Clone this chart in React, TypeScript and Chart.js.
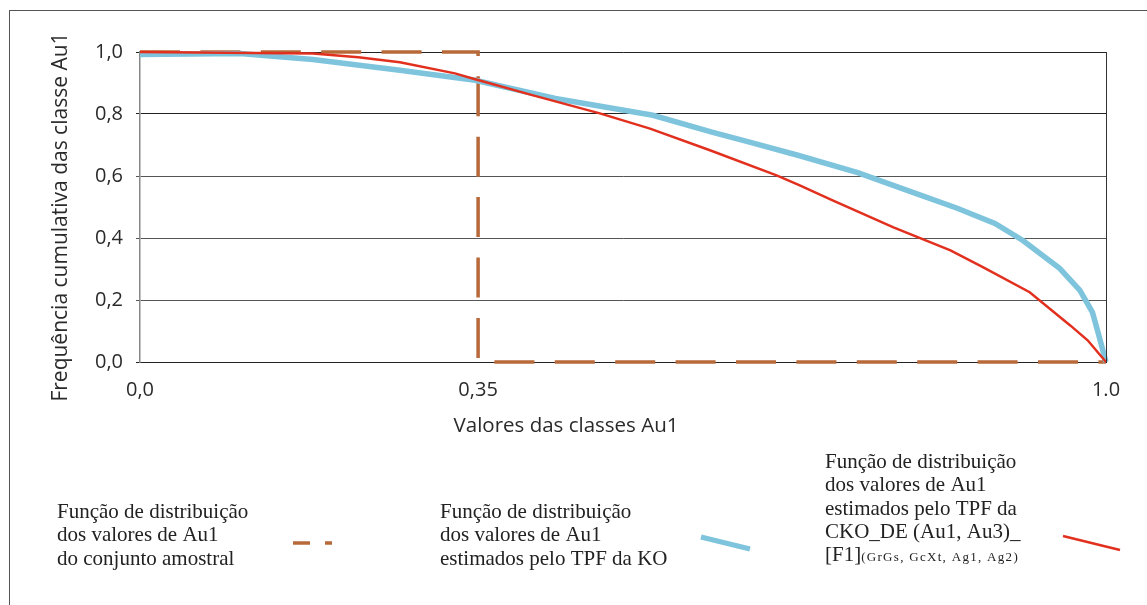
import React, { useEffect, useRef } from 'react';
import { Chart, registerables } from 'chart.js';

Chart.register(...registerables);

// ---- Data ----
const sampleX = [0, 0.35, 0.35, 1.0];
const sampleY = [1, 1, 0, 0];

const koX = [0, 0.1035, 0.179, 0.269, 0.347, 0.43, 0.531, 0.593, 0.631, 0.681, 0.743, 0.8, 0.846, 0.885, 0.914, 0.952, 0.973, 0.986, 0.992, 1.0];
const koY = [0.992, 0.995, 0.976, 0.941, 0.909, 0.85, 0.796, 0.741, 0.709, 0.667, 0.611, 0.547, 0.496, 0.447, 0.392, 0.302, 0.231, 0.16, 0.093, 0.0];

const ckoX = [0, 0.179, 0.226, 0.269, 0.326, 0.347, 0.407, 0.476, 0.528, 0.59, 0.659, 0.683, 0.717, 0.78, 0.839, 0.873, 0.921, 0.963, 0.981, 1.0];
const ckoY = [1.0, 0.995, 0.983, 0.967, 0.931, 0.912, 0.86, 0.802, 0.753, 0.683, 0.602, 0.57, 0.521, 0.434, 0.36, 0.305, 0.225, 0.118, 0.07, 0.0];

const xTickValues = [0, 0.35, 1.0];
const xTickLabels = ['0,0', '0,35', '1.0'];
const yTickLabels = ['0,0', '0,2', '0,4', '0,6', '0,8', '1,0'];

const xTitle = 'Valores das classes Au1';
const yTitle = 'Frequência cumulativa das classe Au1';

const legend1 = ['Função de distribuição', 'dos valores de Au1', 'do conjunto amostral'];
const legend2 = ['Função de distribuição', 'dos valores de Au1', 'estimados pelo TPF da KO'];
const legend3 = ['Função de distribuição', 'dos valores de Au1', 'estimados pelo TPF da', 'CKO_DE (Au1, Au3)_', '[F1]'];
const legend3Sub = '(GrGs, GcXt, Ag1, Ag2)';

const BROWN = '#B8693A';
const BLUE = '#7EC4DD';
const RED = '#E2301F';

const SANS = '"Open Sans", sans-serif';
const SERIF = '"Liberation Serif", serif';

const toPts = (xs: number[], ys: number[]) => xs.map((x, i) => ({ x, y: ys[i] }));

const decorPlugin = {
  id: 'decor',
  beforeDraw(chart: any) {
    const ctx = chart.ctx;
    ctx.save();
    ctx.fillStyle = '#ffffff';
    ctx.fillRect(0, 0, chart.width, chart.height);
    ctx.strokeStyle = '#555';
    ctx.lineWidth = 1;
    ctx.strokeRect(9.5, 10.5, 2000, 2000);
    ctx.restore();
  },
  afterDraw(chart: any) {
    const ctx = chart.ctx;
    const area = chart.chartArea;
    ctx.save();
    // right border of plot
    ctx.strokeStyle = '#333';
    ctx.lineWidth = 1;
    ctx.beginPath();
    ctx.moveTo(Math.round(area.right) + 0.5, area.top);
    ctx.lineTo(Math.round(area.right) + 0.5, area.bottom);
    ctx.stroke();

    // axis titles
    ctx.fillStyle = '#2a2a2a';
    ctx.font = `20.5px ${SANS}`;
    ctx.textAlign = 'center';
    ctx.textBaseline = 'alphabetic';
    ctx.fillText(xTitle, 566, 432);

    ctx.save();
    ctx.translate(67, 217);
    ctx.rotate(-Math.PI / 2);
    ctx.font = `21px ${SANS}`;
    ctx.fillText(yTitle, 0, 0);
    ctx.restore();

    // legend
    ctx.fillStyle = '#222';
    ctx.textAlign = 'left';
    ctx.font = `21px ${SERIF}`;
    const lh = 23.3;
    legend1.forEach((t, i) => ctx.fillText(t, 57, 518 + i * lh));
    legend2.forEach((t, i) => ctx.fillText(t, 440, 518 + i * lh));
    legend3.forEach((t, i) => ctx.fillText(t, 825, 468 + i * lh));
    const fw = ctx.measureText(legend3[legend3.length - 1]).width;
    ctx.font = `13px ${SERIF}`;
    (ctx as any).letterSpacing = '1.3px';
    ctx.fillText(legend3Sub, 825 + fw, 468 + 4 * lh);
    (ctx as any).letterSpacing = '0px';

    // legend symbols
    ctx.lineCap = 'butt';
    ctx.strokeStyle = BROWN;
    ctx.lineWidth = 3.5;
    ctx.setLineDash([17, 15]);
    ctx.beginPath();
    ctx.moveTo(293, 543);
    ctx.lineTo(332, 543);
    ctx.stroke();
    ctx.setLineDash([]);

    ctx.strokeStyle = BLUE;
    ctx.lineWidth = 5;
    ctx.beginPath();
    ctx.moveTo(701, 537);
    ctx.lineTo(750, 549);
    ctx.stroke();

    ctx.strokeStyle = RED;
    ctx.lineWidth = 2.5;
    ctx.beginPath();
    ctx.moveTo(1063, 536);
    ctx.lineTo(1120, 550);
    ctx.stroke();
    ctx.restore();
  },
};

export default function App() {
  const ref = useRef<HTMLCanvasElement | null>(null);
  useEffect(() => {
    if (!ref.current) return;
    const chart = new Chart(ref.current, {
      type: 'scatter',
      data: {
        datasets: [
          {
            label: 'CKO_DE',
            data: toPts(ckoX, ckoY),
            showLine: true,
            borderColor: RED,
            borderWidth: 2.5,
            pointRadius: 0,
            tension: 0,
            clip: 10,
          } as any,
          {
            label: 'KO',
            data: toPts(koX, koY),
            showLine: true,
            borderColor: BLUE,
            borderWidth: 5.5,
            pointRadius: 0,
            tension: 0,
            clip: 10,
          },
          {
            label: 'Amostral',
            data: toPts(sampleX, sampleY),
            showLine: true,
            borderColor: BROWN,
            borderWidth: 3.5,
            borderDash: [40, 20.4],
            borderCapStyle: 'butt',
            pointRadius: 0,
            tension: 0,
            clip: 10,
          },
        ],
      },
      options: {
        responsive: false,
        animation: false,
        devicePixelRatio: 1,
        layout: { padding: { left: 80, right: 41, top: 52, bottom: 203 } },
        plugins: { legend: { display: false }, tooltip: { enabled: false } },
        scales: {
          x: {
            type: 'linear',
            min: 0,
            max: 1,
            afterFit: (s: any) => { s.height = 40; },
            afterBuildTicks: (s: any) => { s.ticks = xTickValues.map((v) => ({ value: v })); },
            ticks: {
              autoSkip: false,
              maxRotation: 0,
              padding: 16,
              color: '#2a2a2a',
              font: { family: SANS, size: 20 },
              callback: (_v: any, i: number) => xTickLabels[i],
            },
            grid: { display: false, drawTicks: false },
            border: { color: '#222', width: 1 },
          },
          y: {
            type: 'linear',
            min: 0,
            max: 1,
            afterFit: (s: any) => { s.width = 60; },
            ticks: {
              stepSize: 0.2,
              padding: 13,
              color: '#2a2a2a',
              font: { family: SANS, size: 20 },
              callback: (_v: any, i: number) => yTickLabels[i],
            },
            grid: {
              drawTicks: true,
              tickLength: 4,
              color: (c: any) => {
                const v = c.tick ? c.tick.value : 0;
                return v > 0.7 || v < 0.01 ? '#222' : '#555';
              },
            },
            border: { color: '#888', width: 1.5 },
          },
        },
      },
      plugins: [decorPlugin],
    });
    return () => chart.destroy();
  }, []);
  return (
    <div style={{ position: 'absolute', left: 0, top: 0, width: 1147, height: 605 }}>
      <canvas ref={ref} width={1147} height={605} style={{ display: 'block' }} />
    </div>
  );
}
